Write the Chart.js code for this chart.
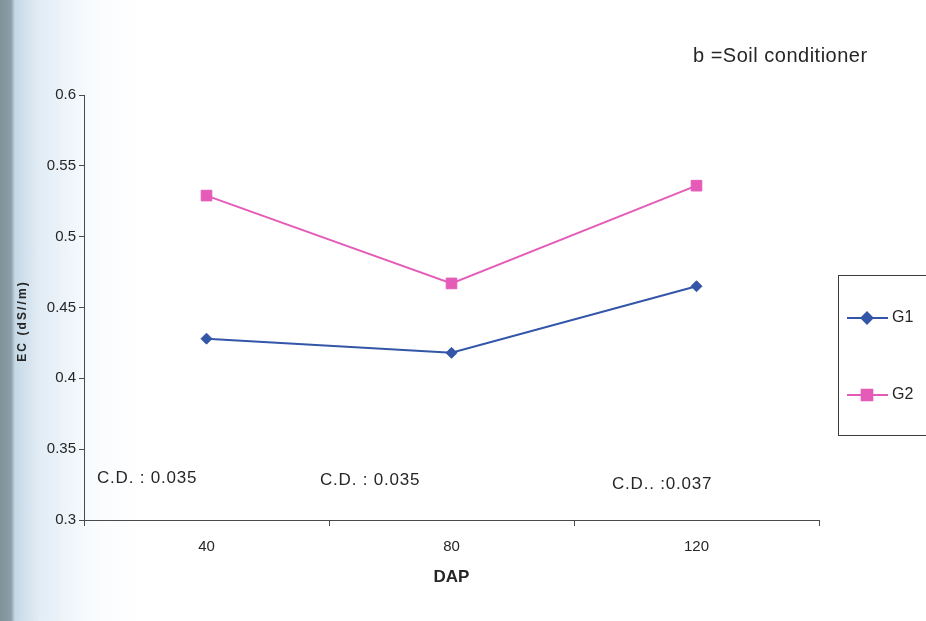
<!DOCTYPE html>
<html>
<head>
<meta charset="utf-8">
<script src="https://cdn.jsdelivr.net/npm/chart.js@4.4.1/dist/chart.umd.min.js"></script>
<style>
html, body { margin: 0; padding: 0; }
body {
  width: 926px; height: 621px; overflow: hidden;
  background: linear-gradient(to right, #7f9199 0px, #8e9ea6 11px, #c6d8e6 15px, #e2edf6 40px, #f8fbfd 90px, #ffffff 140px);
}
</style>
</head>
<body>
<canvas id="myChart" width="926" height="621"></canvas>
<script>
// values
var days = ['40', '80', '120'];
var g1 = [0.428, 0.418, 0.465];
var g2 = [0.529, 0.467, 0.536];
var yTicks = [0.3, 0.35, 0.4, 0.45, 0.5, 0.55, 0.6];
var cdNotes = ['C.D. : 0.035', 'C.D. : 0.035', 'C.D.. :0.037'];
var heading = 'b =Soil conditioner';
var yTitle = 'EC (dS//m)';

var textColor = '#262626';
var axisColor = '#4a4a4a';
var family = "'Liberation Sans', Arial, sans-serif";
Chart.defaults.font.family = family;
Chart.defaults.color = textColor;

// heading, C.D. notes, y title and the boxed legend on the right
var extras = {
  id: 'extras',
  afterDraw: function(chart) {
    var ctx = chart.ctx;
    ctx.save();
    ctx.fillStyle = textColor;
    ctx.textBaseline = 'alphabetic';

    ctx.font = '20px ' + family;
    ctx.letterSpacing = '0.5px';
    ctx.fillText(heading, 693, 62);

    ctx.font = '17px ' + family;
    ctx.letterSpacing = '0.8px';
    var noteX = [97, 320, 612];
    var noteY = [483, 485, 489];
    cdNotes.forEach(function(t, i) { ctx.fillText(t, noteX[i], noteY[i]); });

    // rotated y title, widely spaced like the print
    ctx.save();
    ctx.translate(26, 321);
    ctx.rotate(-Math.PI / 2);
    ctx.font = 'bold 12px ' + family;
    ctx.letterSpacing = '2.1px';
    ctx.textAlign = 'center';
    ctx.fillText(yTitle, 0, 0);
    ctx.restore();

    // legend box
    ctx.letterSpacing = '0px';
    ctx.strokeStyle = '#3c3c3c';
    ctx.lineWidth = 1;
    ctx.strokeRect(838.5, 275.5, 120, 160);
    chart.data.datasets.forEach(function(ds, i) {
      var y = 318 + i * 77;
      ctx.strokeStyle = ds.borderColor;
      ctx.lineWidth = 2;
      ctx.beginPath();
      ctx.moveTo(847, y);
      ctx.lineTo(888, y);
      ctx.stroke();
      ctx.fillStyle = ds.backgroundColor;
      Chart.helpers.drawPoint(ctx, {
        pointStyle: ds.pointStyle, radius: ds.pointRadius, rotation: 0, borderWidth: 1
      }, 867, y);
      ctx.fillStyle = textColor;
      ctx.font = '16px ' + family;
      ctx.textBaseline = 'middle';
      ctx.fillText(ds.label, 892, y);
    });
    ctx.restore();
  }
};

var ctx = document.getElementById('myChart');
var myChart = new Chart(ctx, {
  type: 'line',
  data: {
    labels: days,
    datasets: [
      {
        label: 'G1',
        data: g1,
        borderColor: '#3356a8',
        backgroundColor: '#3356a8',
        borderWidth: 2,
        pointStyle: 'rectRot',
        pointRadius: 5.5,
        pointBorderWidth: 1
      },
      {
        label: 'G2',
        data: g2,
        borderColor: '#e45cb8',
        backgroundColor: '#e45cb8',
        borderWidth: 2,
        pointStyle: 'rect',
        pointRadius: 7.5,
        pointBorderWidth: 1
      }
    ]
  },
  options: {
    responsive: false,
    animation: false,
    layout: { padding: { top: 95, right: 107, bottom: 31, left: 0 } },
    plugins: { legend: { display: false }, tooltip: { enabled: false } },
    scales: {
      x: {
        offset: true,
        grid: { offset: true, drawOnChartArea: false, tickLength: 6, color: axisColor },
        border: { color: axisColor, width: 1 },
        ticks: { font: { size: 15 }, padding: 12, color: textColor },
        title: { display: true, text: 'DAP', font: { size: 17, weight: 'bold' }, padding: { top: 2, bottom: 2 }, color: textColor },
        afterFit: function(s) { s.height = 70; }
      },
      y: {
        min: 0.3,
        max: 0.6,
        afterBuildTicks: function(s) { s.ticks = yTicks.map(function(v) { return { value: v }; }); },
        grid: { drawOnChartArea: false, tickLength: 5, color: axisColor },
        border: { color: axisColor, width: 1 },
        ticks: { font: { size: 15 }, padding: 3, color: textColor, callback: function(v) { return String(v); } },
        afterFit: function(s) { s.width = 84; }
      }
    }
  },
  plugins: [extras]
});
</script>
</body>
</html>
